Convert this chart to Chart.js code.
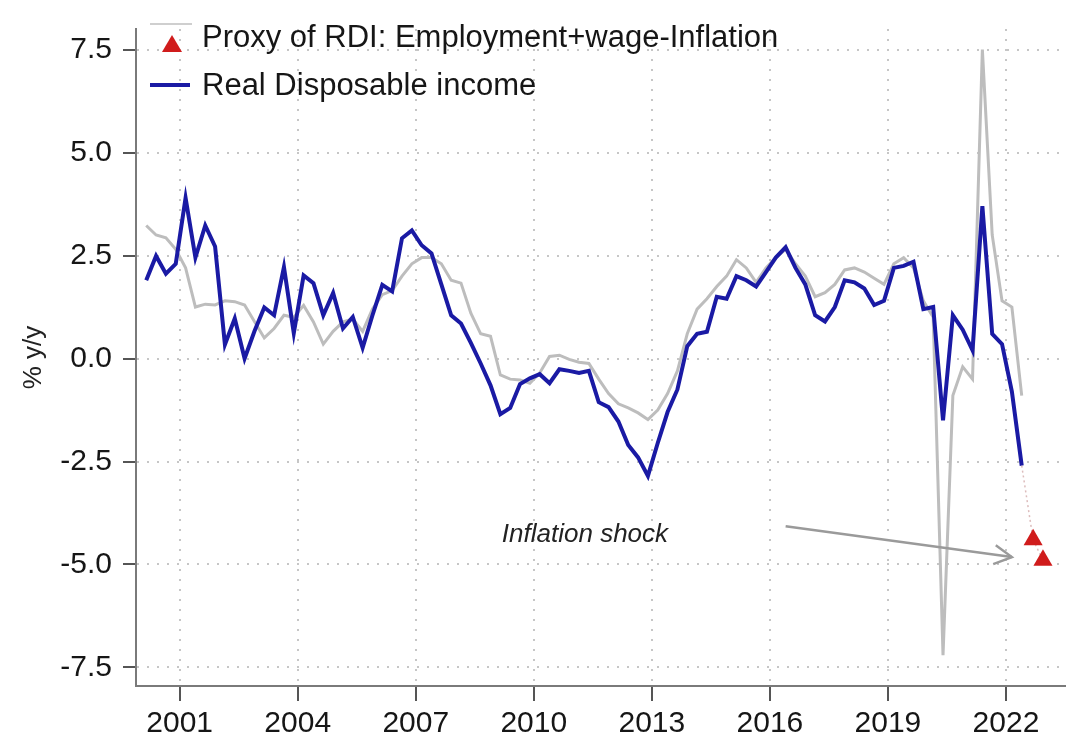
<!DOCTYPE html>
<html>
<head>
<meta charset="utf-8">
<script src="https://cdn.jsdelivr.net/npm/chart.js@4.4.0/dist/chart.umd.min.js"></script>
<style>
  html, body { margin: 0; padding: 0; background: #fff; }
  canvas { display: block; }
</style>
</head>
<body>
<canvas id="chart" width="1076" height="743"></canvas>
<script>
// quarterly, 2000Q1 .. 2022Q2
const firstYear = 2000;
const quarterCount = 90;
const quarters = [];
for (let i = 0; i < quarterCount; i++) {
    quarters.push((firstYear + Math.floor(i / 4)) + 'Q' + (i % 4 + 1));
}

// Real Disposable income, % y/y
const realIncome = [
    1.90, 2.49, 2.06, 2.30,
    3.90, 2.45, 3.23, 2.72,
    0.34, 0.97, 0.00, 0.66,
    1.24, 1.05, 2.22, 0.62,
    2.02, 1.83, 1.05, 1.59,
    0.73, 1.01, 0.26, 1.05,
    1.79, 1.63, 2.92, 3.11,
    2.75, 2.55, 1.80, 1.05,
    0.85, 0.38, -0.12, -0.65,
    -1.35, -1.20, -0.62, -0.48,
    -0.38, -0.60, -0.26, -0.30,
    -0.35, -0.30, -1.06, -1.18,
    -1.53, -2.10, -2.40, -2.85,
    -2.05, -1.30, -0.75, 0.30,
    0.60, 0.65, 1.50, 1.45,
    2.00, 1.90, 1.75, 2.10,
    2.45, 2.70, 2.20, 1.80,
    1.05, 0.90, 1.25, 1.90,
    1.85, 1.70, 1.30, 1.40,
    2.20, 2.25, 2.35, 1.20,
    1.25, -1.50, 1.05, 0.70,
    0.20, 3.70, 0.60, 0.35,
    -0.80, -2.60
];

// Proxy of RDI: Employment + wage - Inflation, % y/y
const proxyRdi = [
    3.23, 3.00, 2.93, 2.65,
    2.20, 1.25, 1.32, 1.30,
    1.40, 1.38, 1.30, 0.90,
    0.50, 0.73, 1.05, 1.00,
    1.29, 0.89, 0.35, 0.66,
    0.89, 0.96, 0.66, 1.20,
    1.55, 1.65, 2.00, 2.30,
    2.45, 2.45, 2.30, 1.90,
    1.83, 1.10, 0.60, 0.54,
    -0.40, -0.50, -0.52, -0.60,
    -0.35, 0.05, 0.08, -0.02,
    -0.09, -0.12, -0.50, -0.85,
    -1.10, -1.20, -1.32, -1.48,
    -1.25, -0.85, -0.30, 0.60,
    1.20, 1.45, 1.75, 2.00,
    2.40, 2.20, 1.85, 2.20,
    2.45, 2.65, 2.30, 2.00,
    1.50, 1.60, 1.80, 2.15,
    2.20, 2.10, 1.95, 1.80,
    2.30, 2.45, 2.20, 1.40,
    1.00, -7.20, -0.90, -0.20,
    -0.50, 7.50, 3.00, 1.40,
    1.25, -0.90
];

// proxy estimates after the last RDI print (red triangles)
const shockDates = [2022.69, 2022.94];
const shockValues = [-4.4, -4.9];

const yearTicks = [2001, 2004, 2007, 2010, 2013, 2016, 2019, 2022];
const valueTicks = [-7.5, -5.0, -2.5, 0.0, 2.5, 5.0, 7.5];

const legendLabels = ['Proxy of RDI: Employment+wage-Inflation', 'Real Disposable income'];
const noteText = 'Inflation shock';

const blue = '#1a1aa4';
const grey = '#bdbdbd';
const red = '#d01c1c';
const fontFamily = '"Liberation Sans", Arial, sans-serif';

function quarterToYear(q) {
    const year = parseInt(q.slice(0, 4), 10);
    const n = parseInt(q.slice(5), 10);
    return year + 0.15 + (n - 1) * 0.25;
}

const xs = quarters.map(quarterToYear);
const incomePoints = realIncome.map((v, i) => ({ x: xs[i], y: v }));
const proxyPoints = proxyRdi.map((v, i) => ({ x: xs[i], y: v }));
const lastIdx = realIncome.length - 1;
const shockPoints = [{ x: xs[lastIdx], y: realIncome[lastIdx] }]
    .concat(shockValues.map((v, i) => ({ x: shockDates[i], y: v })));

// legend + annotation drawn on top of the plot
const overlay = {
    id: 'overlay',
    afterDraw(chart) {
        const { ctx, scales: { x, y } } = chart;
        ctx.save();

        // legend
        ctx.lineCap = 'butt';
        ctx.strokeStyle = '#cfcfcf';
        ctx.lineWidth = 2;
        ctx.beginPath();
        ctx.moveTo(150, 24);
        ctx.lineTo(192, 24);
        ctx.stroke();

        ctx.fillStyle = red;
        ctx.beginPath();
        ctx.moveTo(172, 35);
        ctx.lineTo(182, 52);
        ctx.lineTo(162, 52);
        ctx.closePath();
        ctx.fill();

        ctx.strokeStyle = blue;
        ctx.lineWidth = 4;
        ctx.beginPath();
        ctx.moveTo(150, 85);
        ctx.lineTo(190, 85);
        ctx.stroke();

        ctx.fillStyle = '#161616';
        ctx.font = '31px ' + fontFamily;
        ctx.textBaseline = 'middle';
        ctx.textAlign = 'left';
        ctx.fillText(legendLabels[0], 202, 38);
        ctx.fillText(legendLabels[1], 202, 86);

        // "Inflation shock" note with arrow
        ctx.font = 'italic 26px ' + fontFamily;
        ctx.fillStyle = '#222';
        ctx.textAlign = 'center';
        ctx.fillText(noteText, x.getPixelForValue(2011.3), y.getPixelForValue(-4.27));

        const x1 = x.getPixelForValue(2016.4), y1 = y.getPixelForValue(-4.07);
        const x2 = x.getPixelForValue(2022.15), y2 = y.getPixelForValue(-4.82);
        ctx.strokeStyle = '#9a9a9a';
        ctx.lineWidth = 2.5;
        ctx.beginPath();
        ctx.moveTo(x1, y1);
        ctx.lineTo(x2, y2);
        ctx.stroke();
        const ang = Math.atan2(y2 - y1, x2 - x1);
        const head = 20;
        ctx.beginPath();
        ctx.moveTo(x2 - head * Math.cos(ang - 0.5), y2 - head * Math.sin(ang - 0.5));
        ctx.lineTo(x2, y2);
        ctx.lineTo(x2 - head * Math.cos(ang + 0.5), y2 - head * Math.sin(ang + 0.5));
        ctx.stroke();

        ctx.restore();
    }
};

const tickFont = { family: fontFamily, size: 30 };

new Chart(document.getElementById('chart'), {
    type: 'line',
    data: {
        datasets: [
            {
                label: 'shock',
                data: shockPoints,
                showLine: true,
                borderColor: 'rgba(205,160,160,0.7)',
                borderWidth: 1.5,
                borderDash: [2, 3],
                pointStyle: 'triangle',
                pointRadius: [0, 11, 11],
                pointBackgroundColor: red,
                pointBorderColor: red,
                pointBorderWidth: 0,
                order: -1
            },
            {
                label: legendLabels[1],
                data: incomePoints,
                borderColor: blue,
                borderWidth: 4,
                pointRadius: 0,
                tension: 0,
                order: 0
            },
            {
                label: legendLabels[0],
                data: proxyPoints,
                borderColor: grey,
                borderWidth: 3,
                pointRadius: 0,
                tension: 0,
                order: 1
            }
        ]
    },
    options: {
        responsive: false,
        animation: false,
        layout: { padding: { top: 8, right: 6, left: 0, bottom: 0 } },
        plugins: {
            legend: { display: false },
            tooltip: { enabled: false }
        },
        scales: {
            x: {
                type: 'linear',
                min: 1999.89,
                max: 2023.5,
                afterBuildTicks: s => { s.ticks = yearTicks.map(v => ({ value: v })); },
                afterFit: s => { s.height = 57; },
                grid: {
                    color: '#c6c6c6',
                    lineWidth: 2,
                    tickLength: 15,
                    tickColor: '#555',
                    tickWidth: 2
                },
                border: { display: true, color: '#7a7a7a', width: 2, dash: [2, 8] },
                ticks: {
                    font: tickFont,
                    color: '#161616',
                    padding: 5,
                    maxRotation: 0,
                    autoSkip: false,
                    callback: v => String(v)
                }
            },
            y: {
                min: -7.95,
                max: 8.0,
                afterBuildTicks: s => { s.ticks = valueTicks.map(v => ({ value: v })); },
                afterFit: s => { s.width = 136; },
                grid: {
                    color: '#c6c6c6',
                    lineWidth: 2,
                    tickLength: 13,
                    tickColor: '#555',
                    tickWidth: 2
                },
                border: { display: true, color: '#7a7a7a', width: 2, dash: [2, 8] },
                ticks: {
                    font: tickFont,
                    color: '#161616',
                    padding: 11,
                    autoSkip: false,
                    callback: v => v.toFixed(1)
                },
                title: {
                    display: true,
                    text: '% y/y',
                    font: { family: fontFamily, size: 26 },
                    color: '#222',
                    padding: { top: 18, bottom: 0 }
                }
            }
        }
    },
    plugins: [overlay]
});
</script>
</body>
</html>
